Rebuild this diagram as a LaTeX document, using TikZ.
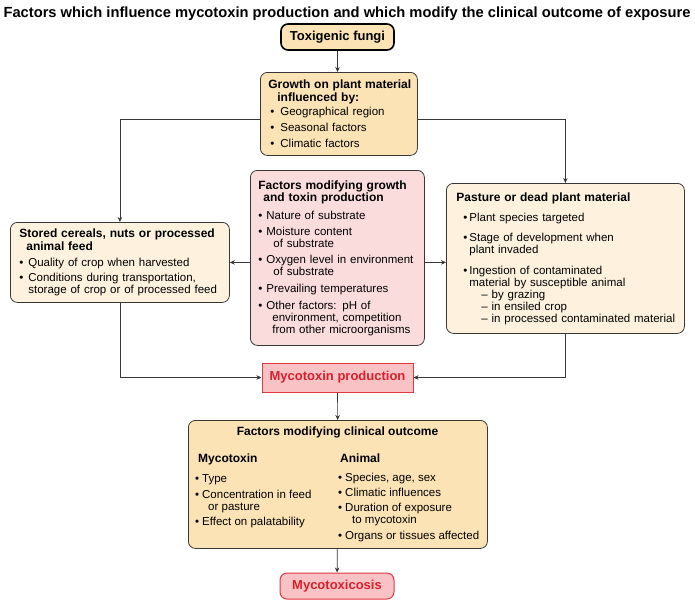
\documentclass[tikz,border=0pt]{standalone}
\usepackage{fontspec}
\setmainfont{Liberation Sans}
\usepackage{xcolor}
\usepackage{tikz}
\usetikzlibrary{arrows.meta, positioning}
\definecolor{edge}{RGB}{55,55,55}
\definecolor{peach}{RGB}{252,227,182}
\definecolor{cream}{RGB}{254,242,222}
\definecolor{rose}{RGB}{251,220,220}
\definecolor{alarm}{RGB}{214,32,44}
\definecolor{alarmline}{RGB}{226,56,63}
\definecolor{alarmfill}{RGB}{249,195,197}
\newcommand{\hd}[1]{\mbox{\fontsize{12}{12}\selectfont\bfseries #1}}
\newcommand{\itm}[2][8pt]{\mbox{\makebox[#1][l]{\textbullet}#2}}
\newcommand{\ctd}[2][8pt]{\mbox{\hspace*{#1}#2}}

\begin{document}
\begin{tikzpicture}[x=1pt, y=-1pt, font=\fontsize{11.5}{12}\selectfont,
  bx/.style={rectangle, rounded corners=7pt, draw=edge, line width=0.8pt,
             anchor=north west, inner xsep=#1, inner ysep=0pt, align=left},
  bx/.default=8pt,
  hot/.style={rectangle, draw=alarmline, line width=1pt, fill=alarmfill, text=alarm,
              font=\fontsize{13}{13}\selectfont\bfseries, inner sep=0pt},
  col/.style={anchor=north west, inner sep=0pt, align=left},
  a/.style={-{Stealth[length=5pt, width=4.5pt]}, line width=0.7pt, draw=edge}]
  \useasboundingbox (0,0) rectangle (695,600);

  \node[anchor=base, font=\fontsize{14.7}{15}\selectfont\bfseries] (title) at (347,17)
    {Factors which influence mycotoxin production and which modify the clinical outcome of exposure};

  \node[rectangle, rounded corners=7pt, draw=black, line width=1.6pt, fill=peach,
        minimum width=113pt, minimum height=26pt, inner sep=0pt,
        font=\fontsize{13}{13}\selectfont\bfseries] (fungi) at (337.5,37) {Toxigenic fungi};

  \node[bx, fill=peach, minimum width=157pt, minimum height=83pt, text width=141pt] (growth) at (260,72)
    {\hd{Growth on plant material}\\[1pt]
     \ctd[9pt]{\hd{influenced by:}}\\[2pt]
     \ctd[2pt]{\itm[10pt]{Geographical region}}\\[4pt]
     \ctd[2pt]{\itm[10pt]{Seasonal factors}}\\[4pt]
     \ctd[2pt]{\itm[10pt]{Climatic factors}}};

  \node[bx=9pt, fill=cream, minimum width=219pt, minimum height=80pt, text width=201pt] (stored) at (10,222)
    {\hd{Stored cereals, nuts or processed}\\[1pt]
     \ctd[7pt]{\hd{animal feed}}\\[4pt]
     \itm[9pt]{Quality of crop when harvested}\\[3pt]
     \itm[9pt]{Conditions during transportation,}\\
     \ctd[9pt]{storage of crop or of processed feed}};

  \node[bx, fill=rose, minimum width=174pt, minimum height=175pt, text width=158pt] (pink) at (250,170)
    {\hd{Factors modifying growth}\\
     \ctd[5pt]{\hd{and toxin production}}\\[6pt]
     \itm{Nature of substrate}\\[4pt]
     \itm{Moisture content}\\
     \ctd[15pt]{of substrate}\\[4pt]
     \itm{Oxygen level in environment}\\
     \ctd[15pt]{of substrate}\\[5pt]
     \itm{Prevailing temperatures}\\[5pt]
     \itm{Other factors: pH of}\\
     \ctd[14pt]{environment, competition}\\
     \ctd[14pt]{from other microorganisms}};

  \node[bx=10pt, fill=cream, minimum width=238pt, minimum height=150pt, text width=218pt] (pasture) at (446,183)
    {\hd{Pasture or dead plant material}\\[8pt]
     \ctd[7pt]{\itm[6pt]{Plant species targeted}}\\[8pt]
     \ctd[7pt]{\itm[6pt]{Stage of development when}}\\
     \ctd[13pt]{plant invaded}\\[9pt]
     \ctd[7pt]{\itm[6pt]{Ingestion of contaminated}}\\
     \ctd[13pt]{material by susceptible animal}\\
     \ctd[25pt]{-- by grazing}\\
     \ctd[25pt]{-- in ensiled crop}\\
     \ctd[25pt]{-- in processed contaminated material}};

  \node[hot, minimum width=151pt, minimum height=29pt] (prod) at (337.5,377.5) {Mycotoxin production};

  \node[bx, fill=peach, minimum width=299pt, minimum height=128pt] (clin) at (188,420) {};
  \node[font=\fontsize{12}{12}\selectfont\bfseries, anchor=base] (clinhead) at (337.5,435)
    {Factors modifying clinical outcome};
  \node[col, below right=33.5pt and 7pt of clin.north west] (mcol)
    {\ctd[3pt]{\hd{Mycotoxin}}\\[8pt]
     \itm[7pt]{Type}\\[4pt]
     \itm[7pt]{Concentration in feed}\\
     \ctd[13pt]{or pasture}\\[3pt]
     \itm[7pt]{Effect on palatability}};
  \node[col, below right=33.5pt and 150pt of clin.north west] (acol)
    {\ctd[2pt]{\hd{Animal}}\\[7pt]
     \itm[7pt]{Species, age, sex}\\[3pt]
     \itm[7pt]{Climatic influences}\\[3pt]
     \itm[7pt]{Duration of exposure}\\
     \ctd[14pt]{to mycotoxin}\\[4pt]
     \itm[7pt]{Organs or tissues affected}};

  \node[hot, rounded corners=7pt, minimum width=114pt, minimum height=26pt] (tox) at (337,586) {Mycotoxicosis};

  \draw[a] (fungi.south) -- (fungi.south |- growth.north);
  \draw[a] ([yshift=-5.5pt]growth.west) -| (stored.north);
  \draw[a] ([yshift=-5.5pt]growth.east) -| (pasture.north);
  \draw[a] (pink.west |- stored.east) -- (stored.east);
  \draw[a] (pink.east |- stored.east) -- (pasture.west |- stored.east);
  \draw[a] (stored.south) |- (prod.west);
  \draw[a] (pasture.south) |- (prod.east);
  \draw[a] (prod) -- (clin);
  \draw[a] (clin) -- (tox);
\end{tikzpicture}
\end{document}
